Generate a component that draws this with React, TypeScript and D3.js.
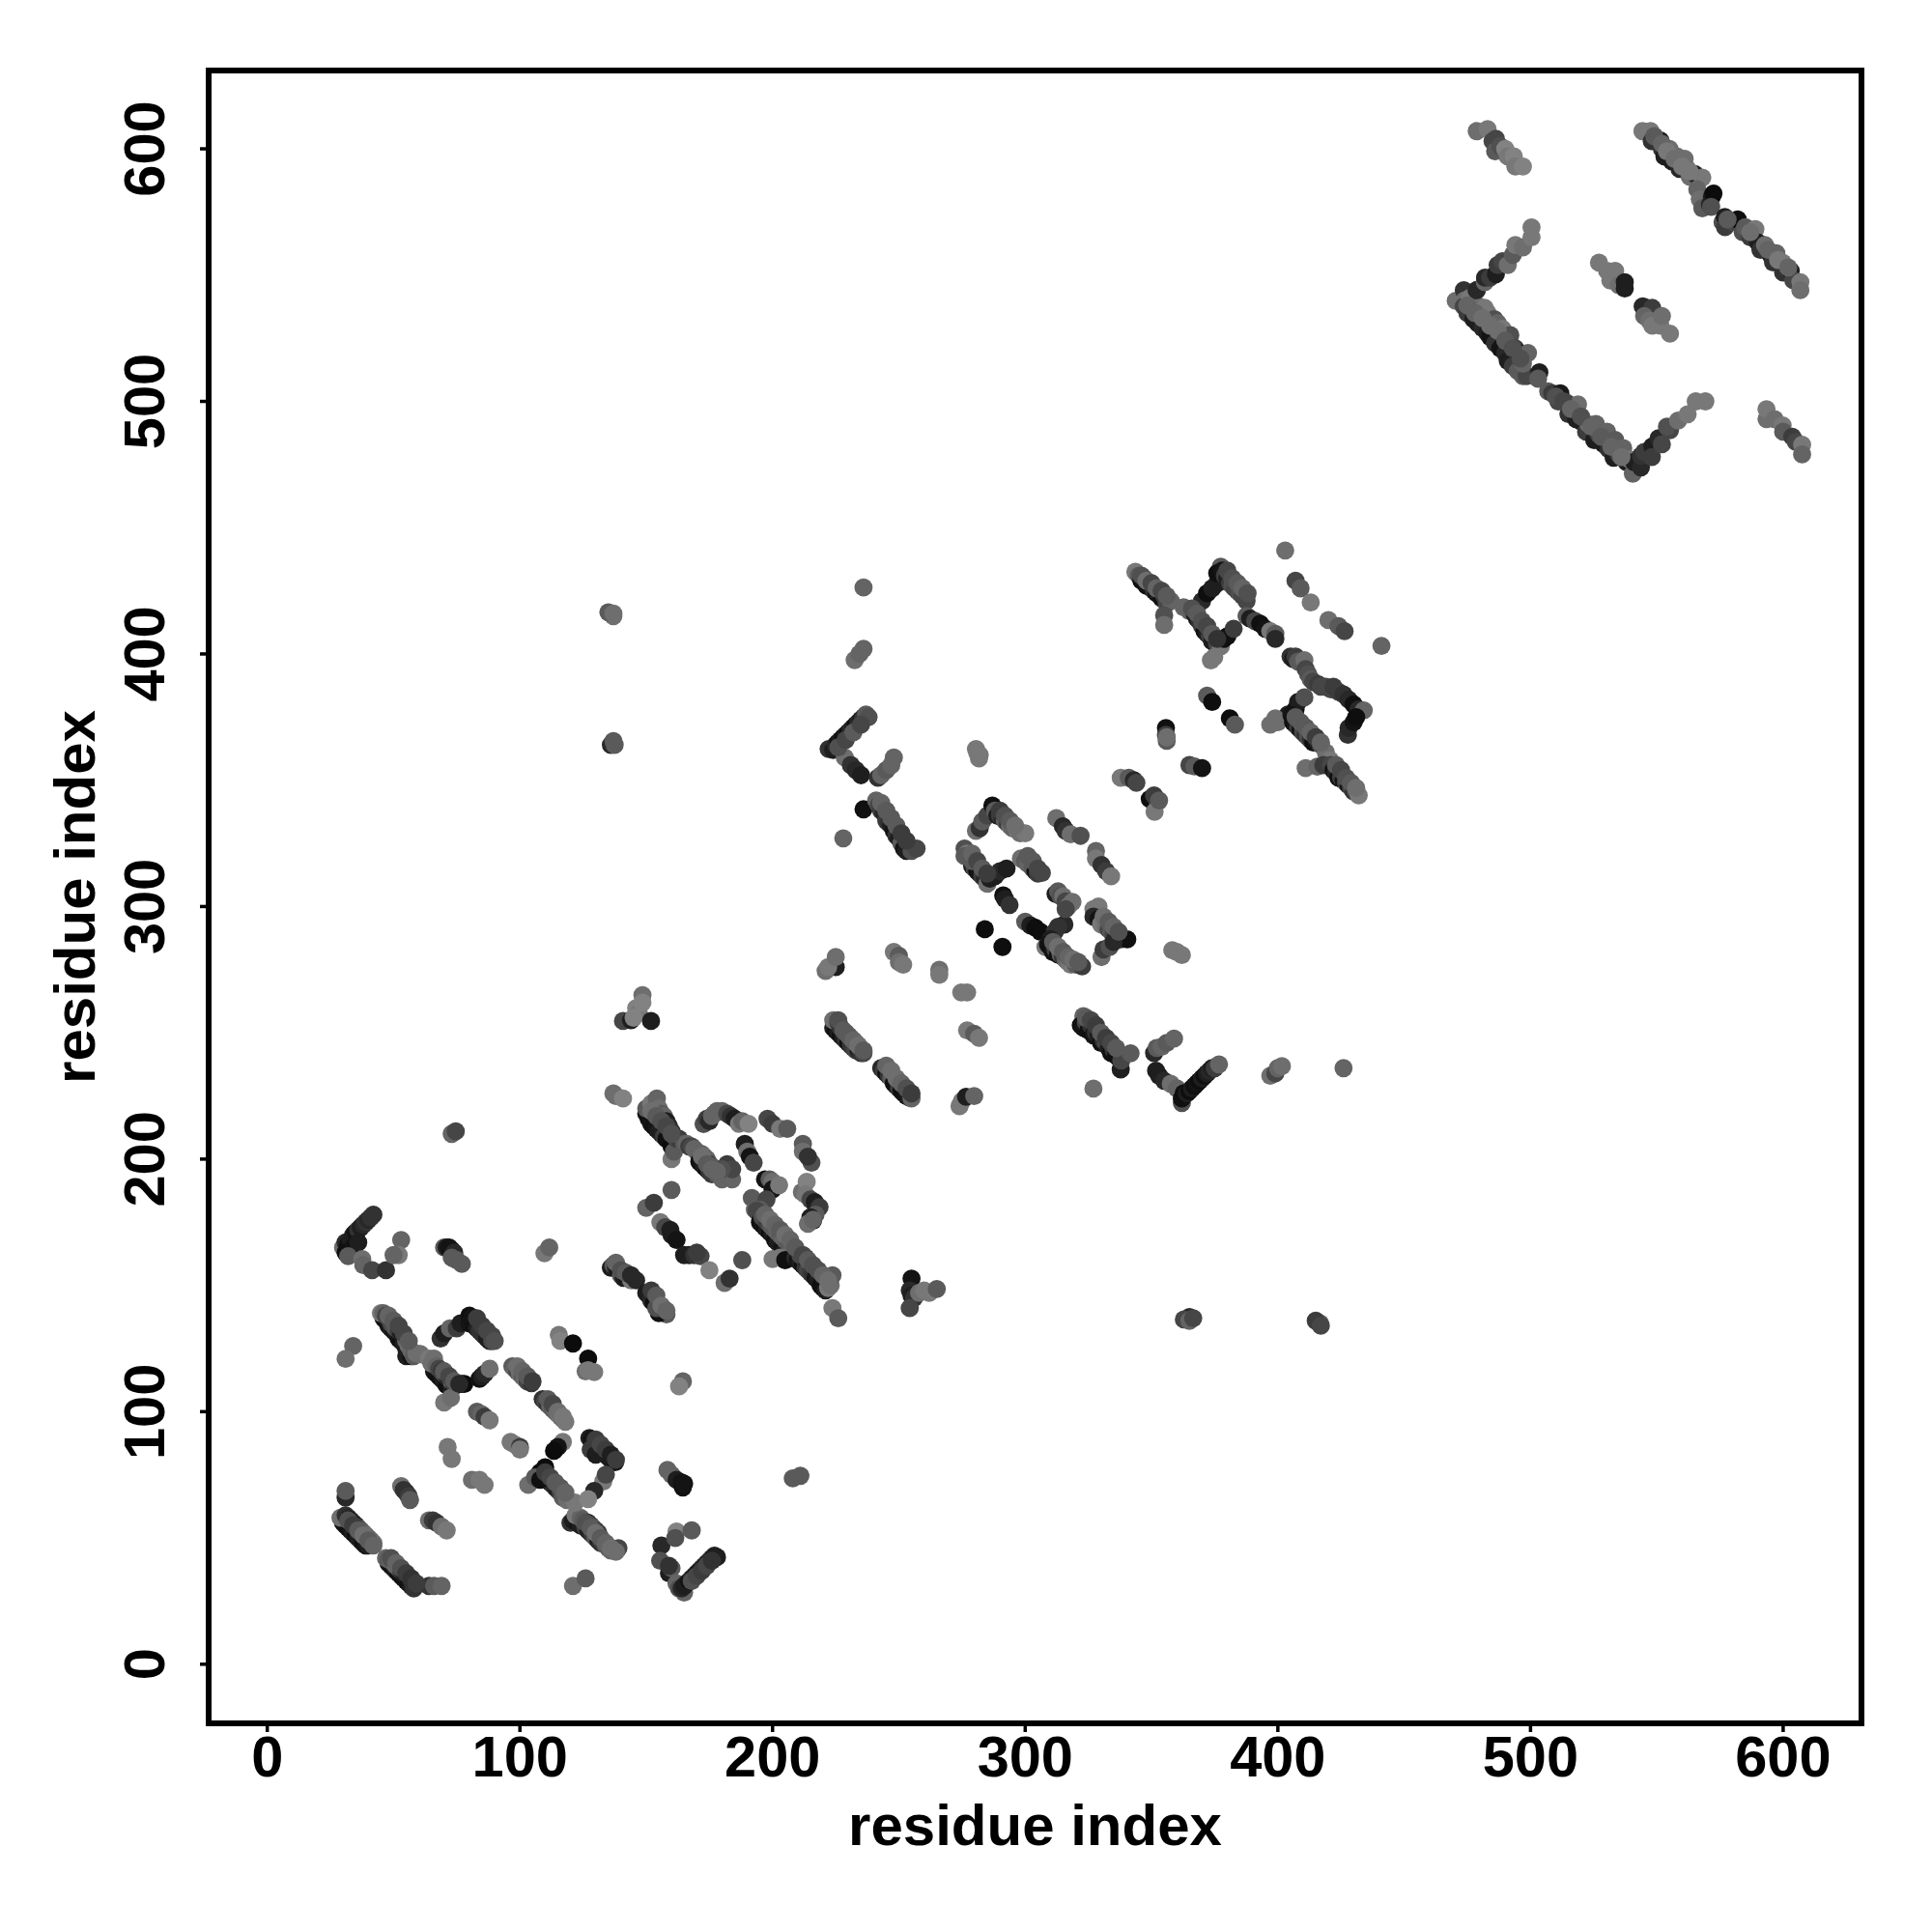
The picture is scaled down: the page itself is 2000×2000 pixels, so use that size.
import React from "react";
import * as d3 from "d3";

type P = [number, number, number];

const xTicks = [0, 100, 200, 300, 400, 500, 600];
const yTicks = [0, 100, 200, 300, 400, 500, 600];
const axisTitle = "residue index";

// [residue x, residue y, grey level of the contact]
const bottomLeft: P[] = [
  [30,56,20],[31,55,20],[32,54,16],[33,53,20],[34,52,30],[35,51,16],[36,50,30],[37,49,30],[38,48,16],[39,47,20],[40,47,30],
  [29,58,110],[31,59,50],[32,58,40],[33,57,20],[34,56,40],[35,55,30],[36,54,70],[37,53,90],[38,52,100],[39,51,110],[40,50,100],[41,49,100],[42,48,110],
  [48,40,20],[49,39,20],[50,38,20],[51,37,30],[52,36,16],[53,35,20],[54,34,16],[55,33,20],[56,32,16],[57,31,30],
  [47,42,100],[48,41.5,90],[49,41,100],[50,40,90],[51,39,110],[52,38,100],[53,37,60],[54,36,40],[55,35,30],[56,34,20],[57,33,40],[58,32,50],[58,30,50],
  [64,31,50],[66,31,90],[69,31,100],
  [31,66,40],[31,68.6,90],
  [53,70.5,110],[54,69,50],[55,68,50],[56,66.5,60],[56.5,65,90],
  [64,57,110],[65.5,57,60],[67,56,50],[69,54.5,110],[71,53,120],
  [121,31,110],[126,34,90],
  [156,47,40],[155.5,41,80],[162,52.6,130],[161.5,50,80],[168,53,90],
  [159,36,30],[160,38,90],[159,39,50],
  [162,32,100],[163,30,80],[165,28.4,100],[164,30,40],[165,31,30],[166,32,30],[167,33,20],[168,34,40],[169,35,30],[170,36,30],[171,37,20],[172,38,30],[173,39,40],[174,40,30],[175,41,40],[176,42,40],[178,42.4,30],[177,43,30],
  [120,56,50],[121,57,30],[123,56,20],[124,55,30],[126,54,70],[127,53,30],[128,52,40],[129,51,60],[130,50,90],[131,49,30],[132,48,50],[133,48,60],[134,47,90],[135,46,90],[136,45,100],[138,45,110],[139,46,70],
  [122,59,120],[124,58,100],[125,57,90],[127,56,30],[128,55,70],[129,54,90],[130,53,70],[131,52,60],
  [30,165,110],[31,167,40],[32,166,16],[33,168,30],[34,170,30],[35,171,20],[36,172,50],[37,173,30],[38,174,40],[39,175,50],[40,176,40],[41,177,50],[42,178,50],[31,163,16],[33,163,16],[34,165,20],[35,166,16],[36,167,30],[32,161.6,90],[37.6,160.4,110],[38,158,100],[41.5,156,70],[47,156,50],[53,168,100],[52,162,120],[50,162,100],
  [70,165,90],[71,165,30],[72,165,20],[73,164,20],[74,163,40],[73,161,90],[75,160,90],[77,158.5,90],
  [109.7,162.7,120],[111.6,165,100],
  [150,180.7,100],[153,182.7,60],[160,187.8,90],
  [155.6,175,120],[157.5,173,70],[159.5,172,30],[160,170,30],[162,168,20],[165,162,30],[167,162,30],[169,162,50],[171.5,161.6,70],[175,156,130],[170,163,60],[181,151,110],[183,152.7,50],[188,160,80],
  [136,157,30],[137,158,90],[138,157,40],[139,156,20],[140,154,90],[141,153,30],[142,154,20],[143,153,30],[144,152,120],[146,152,40],
  [150,147,30],[151,146,30],[152,144,40],[153,143,16],[154,142,20],[155,141,16],[156,140,120],[157,140,90],[158,138.5,90],[155,139,16],[154,141,80]
];

const midLeft: P[] = [
  [46,137,20],[47,136,16],[48,134,20],[49,133,30],[50,132,20],[51,131,30],[52,129,20],[53,128,16],[54,127,30],[55,125,30],[55,122,30],[57,122,16],
  [45,139,120],[46,139,100],[47,138,70],[48,137,70],[49,135,70],[50,134,80],[51,133,90],[52,132,60],[53,131,30],[54,130,30],[55,128,100],[56,126,110],[57,124,100],[58,122,90],[59,123,110],[60.6,122.8,110],[34,126,100],[31,120.9,110],
  [66,116,20],[67,115,20],[68,114,16],[69,113,20],[70,112,30],[71,110.5,16],[72,110,16],[73,109.5,30],[74,110,16],
  [64,121,120],[65,119,110],[66,121,110],[67,118,100],[68,117,70],[69,116,60],[70,115,80],[71,114,50],[72,113,30],[73,112,90],[74,111,50],[75,111,16],[77,111,16],[78,111,12],
  [68.6,129,50],[70,131,30],[72.3,133,100],[75,133,60],[76.5,135,30],
  [80,138,16],[81,137,20],[82,136,30],[80,135,20],[82,134,16],[83,133,30],[84,132,50],[85,131,50],[86,130,50],[87,129,30],[88,128,30],[89,128,70],
  [84,113,16],[85,114,30],[86,115,40],[88,117,110],[70,103.6,120],[72.7,105.5,110],
  [97,118,90],[98,117,100],[99,116,70],[100,115,110],[101,114,90],[102,113,110],[103,112,70],[104.6,111.3,50],
  [109,105,50],[110,104,70],[111,103,50],[112,102,100],[113,101,90],[114,100,100],[115,99,110],[116,98,120],[117,97,110],[118,96,120],
  [115.4,130.4,120],[116,128,130],[121,127,12],[127,121,12],[126,116,110],[127,116.4,120],[129.4,115.7,120],
  [83,100,90],[84.8,99,100],[86,98,60],[88,96.6,120],[71.4,86,120],[73,81.3,120],
  [81,73,110],[84,73,120],[86,71,120],
  [96.3,88,120],[98,87,120],[100,86,60],[100,85,120],[164.5,112,100],[163,110,130],
  [117,88,120],[115,86,20],[113.5,84.5,12],[110,78,12],
  [108,76,12],[109,75,30],[110,74,20],[111,73,40],[112,72,16],[113,71,50],[114,70,40],[115,69,30],[116,68,60],[117,66,90],[118.6,65,110],[121.8,64,120],[103.3,71,110],[106,74,90],[108,73,16],
  [127.5,89.6,30],[128.5,89,20],[129,87,30],[130,87,60],[131,86,30],[132,85,60],[133,84,70],[134,83,50],[135,82,16],[136,81,30],[137.7,80,20],[128,85,60],[130,83,30],
  [133,72.4,120],[134,75,70],[129.4,68.6,40],[127,65.4,130],
  [158.4,76.9,100],[160,75,100],[162,73,30],[164,72,20],[164.5,70,16],[165,71.5,20],
  [73,210,100],[74.6,211,70],[208,73.6,90],[211,74.6,90]
];

const midCentre: P[] = [
  [140.8,254.7,70],[144,255,30],[146,259.8,130],[147,258,120],[148.5,264.9,110],[148.5,262,130],[145,256,130],[151.9,254.7,30],
  [137,226,110],[138,225,110],[140.8,224,130],
  [150,218,20],[151,216,16],[152,214,20],[153,213,16],[154,212,20],[155,211,30],[156,210,30],[157,209,60],[158,208,16],[160,205,12],[160,200,120],[161,203,90],
  [150,220,90],[152,222,120],[154.2,224,100],[155,220,110],[156,218,90],[157,217,100],[158,215,30],[159,213,40],[160,211,50],[161,209,30],[162,208,70],[163,208,60],[165,206,90],[166,206,100],[167,205,60],[168,205,70],[169,204,100],[170,203,100],
  [171,199,16],[172,198,20],[173,197,30],[174,196,16],[175,195,50],[176,194,60],[177,196,90],[172,202,100],[173,201,110],[174,200,100],[175,198,60],[176,197,90],[178,194,90],[180,192,100],[182,198,60],[184,192,100],[184,196,70],[180,196,80],
  [172.7,213.9,80],[174,216,60],[175,215,40],[176,217,100],[177,218,100],[178,219,100],[180,219,100],[182,218,70],[183.5,217,50],[185,216,30],[186.7,214,120],[188,215,100],[190.5,214,130],
  [198,216,70],[200,214,60],[203,212,120],[205.8,212,90],
  [212,206,90],[212,203,110],[215.4,198.6,80],[214,201,50],
  [189,206,30],[190,203,110],[191,201,20],[192.5,198.6,70],
  [197,192,20],[198.8,192,90],[200,191,110],[200,188,20],[202.6,189.7,120],
  [211.6,187,110],[213.5,191,130],[213,186,120],[215,184,70],[216.7,183,30],[217,182,30],[218.6,181,60],[217,178,90],[215,177,30],[216,175.6,20],[214,174.4,110],[216,176,100],
  [191.8,184.6,90],[193,180,100],[194,182,90],[197.6,184,70],[195,180,90],[197,178,90],[193.7,179.5,70],
  [195,175,16],[196,174,20],[197,173,16],[198,172,30],[199,171,16],[200,170,30],[201,168,16],[202,167,30],[203,166,30],[204,165,20],[205,164,30],[196,177,80],[197,176,70],[198,175,60],[199,174,80],[200,173,90],[201,172,90],[202,171,100],[203,170,90],[204,169,100],[205,168,100],[206,167,90],[207,166,90],[208,164,100],
  [200,160.4,120],[203,161,120],[205,160,16],
  [209,161,40],[210,160,20],[211,159,30],[212,158,16],[213,157,50],[214,156,70],[215,155,60],[216,154,50],[217,153,20],[218,152,30],[219,150,16],[220,149,16],[221,148,30],[222,149,120],[223,150,110],[223.7,154,90],[211,162,70],[213,161,12],
  [223.7,141,120],[226,137,90],
  [255,152.7,20],[254.3,148,40],[255,146,30],[256,145,50],[254.3,141,70],[258,147,110],[260,148,120],[262,147,120],[265,148.6,90],
  [225,276,30],[221,274.5,110],[222,276,120],[225,280,110],
  [248,282,120],[250,280.5,90],[250,278,110],[251.7,277,120],
  [266,275,110],[266,273,120],[274.7,266,120],[277,266,120],
  [277,251,120],[279.8,249.6,90],[281.7,248,120],
  [274,221,120],[275,223,120],[276.6,224.7,30],[279.8,225,100],
  [224,252,30],[225,251,16],[226,250,30],[227,249,16],[228,248,30],[229,247,50],[230,246,16],[231,245,50],[232,244,60],[233,243,70],[234,243,30],[235,242,50],[236,242,70],[224,255,110],[226,254,60],[227,252,50],[229,250,90],[231,248,110],[233,246,110],
  [243,236,40],[244,235,60],[245,234,16],[246,233,50],[247,232,90],[248,230,16],[249,229,16],[250,228,60],[251,227,16],[252,226,16],[253,225,20],[254,224.5,30],[255,224,100]
];

const midRight: P[] = [
  [137,415,110],[135,416.5,90],[137,416,110],
  [136,364,40],[137,365.5,90],[137.5,364,90],
  [236,426.3,100],[232.5,397.6,110],[234.4,400,100],[236,402,100],
  [222.2,362.4,50],[224,362,30],[225,364,40],[226,365,20],[227,366,30],[228,367,16],[229,368,30],[230,369,16],[231,370,40],[232,371,30],[233,372,16],[234,373,40],[235,374,30],[236,375,50],[237,376,90],[238,375,80],
  [228.6,359,110],[231,356,50],[233,354,40],[235,352,30],[241.7,351,50],[243,352,100],[245,354,90],[247,356,100],[248,359,100],
  [236,338.5,16],[241,342,100],[242,340,70],[243,338,60],[244,337,40],[245,334,60],[246,333,50],[247,332,30],[248,330,20],[249,328,50],[250,327,30],[251,325,90],[252,323,20],[253,322,30],[255,322,80],[257,323,70],[228,327,100],
  [280.5,362.4,120],[281,361,120],[281.7,358.6,120],[282,360,120],
  [280.5,330,110],[282,331,50],[283,333.7,90],[285,336,70],[287,340,16],[288,338,90],[289,336,30],[290,336,60],[291,335,40],[292,334,100],[293,333,60],[294,332,110],[295,331,100],[297,330,120],[298,329,110],[300,329,120],
  [276,323,80],[277,321,120],[278,319,100],[279,316,30],[280,315,70],[281,314,16],[282,313,20],[283,312,60],[284,311,40],[285,309,110],[286,311,30],[288,312,30],[290,314,40],[292.6,315,30],[276,320,90],[279,318,90],
  [298.3,319,110],[300,318,90],[301,317,100],[303,315,90],[304,314,20],[305,313,60],[306.6,313.3,70],
  [291.3,304.4,16],[292,303,30],[293.8,300.6,50],
  [284,291,14],[291,284,14],
  [300,294,90],[302,292.6,30],[304,291.6,14],[306,290,14],
  [315.5,292.9,40],[313,292,50],[311.7,290,50],[310,287,30],
  [308,284,120],[309,285,20],[310,284,16],[311,282,20],[312,283,70],[313,281,16],[314,281,90],[315,280,50],[316,279,100],[317,278,110],[318,277,120],[320,277,90],[322.5,276.3,60],
  [312.3,335,110],[314.9,331.8,40],[316,330,50],[318,328.6,110],[321.9,328,80],
  [328,322,100],[328,319,120],[330.2,316.5,50],[332,314,60],[334,312,120],
  [312,305,30],[313,306,90],[314,304,80],[315,304,110],[316,302,70],[317,300,120],[318.7,301.8,110],[316,299,70],
  [327,299,120],[329,300,120],[327,296,40],[329,295,20],[330,293,120],[332,292,110],[333,291,70],[334,290,90],[335,289,70],[336,288,30],[337,288,60],[338,287,60],[340.4,287,16],
  [330.2,280,110],[331,283,60],[333.4,284,80],[335,286,40],
  [358.2,282.7,120],[360,282,120],[362,280.8,120],
  [323,256.6,100],[322,253,16],[323,252,20],[324,254,70],[325,251,16],[326,253,50],[327,249,20],[328,250,50],[329,249,30],[330,246,16],[331,247,50],[332,246,70],[333,244,30],[334,242,16],[335,243,50],[336,241,16],[337.8,235.5,30],[337,240,16],[338,239,70],[341.7,241.9,90],
  [327,227.9,110],
  [351,242,40],[352,244,90],[354,244.5,100],[356,246,90],[358.9,247.7,100],
  [351.8,235,30],[353,233,30],[355,231,40],[357.6,229.8,110],[360,228,100],[362,222.2,80],
  [362,224,16],[362.7,226,14],[364,226,30],[365,227,14],[366,228,30],[367,229,16],[368,230,20],[369,231,14],[370,232,30],[371,233,16],[372,234,30],[373,235,40],[374,236,30],[375,236,60],[376.7,237.5,100],
  [397,233,110],[399,234,70],[400,236,100],[401.6,236.8,110],
  [426,236,100]
];

const upperMid: P[] = [
  [343.6,432.5,120],[345,431,90],[346,429,16],[347,430,30],[348,427,16],[349,428,60],[350,426,20],[351,425,50],[352,424,16],[353,424,40],[354,422,16],[355,423,60],[356,420,70],[357.6,421,100],[355,415.3,80],[355,411.5,110],
  [362.7,418.5,100],[365,417,100],[367,416,30],[368,414,20],[369,413,50],[370,411,60],[371,409,16],[372,408,30],[373,407,60],[374,405,30],[375,405,30],[376,404,70],[377.4,403,120],[374.8,398.7,120],[373.5,397.5,120],
  [370,421,40],[372,424,14],[374,426,30],[376,428,30],[377.4,434.5,90],[376,432,16],[378,433,20],[379,431,60],[380,430,30],[381,428,60],[382,427,80],[383,426,70],[384,425,70],[385,424,80],[386,423,70],[387.6,421,70],
  [378.6,406,16],[380,407,16],[382.5,410,60],
  [387.6,415,90],[389,414,30],[391,413,70],[393,412,16],[395,410,20],[397,409,120],[399,408,90],[399,406,40],
  [372,383.5,90],[374,381,14],[381,374.5,14],[383,372,90],
  [355.7,370.7,16],[355.7,368,60],[356,365.6,90],[356,367,110],
  [337.8,351,120],[341,351,90],[343,350,40],[344,349,70],[349.3,342.6,14],[352.5,341.4,100],[351.2,337.5,120],[351,344,60],[353,342,90],
  [365,356,70],[367,355.5,90],[370,354.8,20],
  [402.9,441,110],[407,429,70],[409,426,90],[413,420.4,120],[420,413.4,110],[424,411,90],[426.4,409,70],[441,403.2,100],
  [405,399,50],[406,398,30],[407,399,60],[408,397,90],[410.5,397.5,110],[411,394,70],[412,392,80],[413,390,90],[414,389,70],[416,388,60],[417,387,70],[419,387,70],[421,386,70],[422,387,60],[424,385,60],[426,384,50],[428,382,40],[430,380,16],[432,378,40],[434,377.7,100],
  [427.7,368,50],[428,370.7,40],[430,373,20],[431,375,14],
  [404,376,30],[407,378,16],[408,381,30],[410.5,382.8,80],
  [397,372,110],[399,374.5,110],[400,373,110],
  [405.4,375.8,20],[406,373,16],[407,372,20],[408,371,60],[409,370,16],[410,369,70],[411,368,50],[412,367,80],[413,366,50],[414,365,14],[415,365,20],[416,365,30],[417,364,80],[419,361,110],[420.7,358,120],
  [411,354.8,110],[415.6,355.4,100],[418,356,60],
  [421,356,70],[422,354,20],[423,353,40],[424,351,14],[425,351,60],[426,350,20],[427,349,70],[428,348,20],[429,347,70],[430,345.5,50],[431,346,100],[432,344,120]
];

const topRight: P[] = [
  [478.7,607,110],[483,607.8,120],[485,603,70],[486.3,604,70],[486,599,90],[488,601,80],[490,600,130],[491,597,120],[493.4,597,130],[494,593,120],[497,593,130],
  [544.3,607,120],[547.5,607,120],[548,603,50],[551.4,603.3,30],[552,600,50],[553,597,30],[555,600,110],[556,595,30],[558,597,110],[559,592,40],[561,596,110],[562,592,110],[563,589,110],[565,590,30],[568,588.6,120],[566,584,100],[567,580,110],[568,576.5,90],[571,578,40],[571.8,581,30],[572.4,582.3,12],[571.5,577,80],
  [576,571,80],[576.9,573,30],[577,569,60],[580,571,70],[582,572,14],[584,567,80],[585,569,90],[587,565,60],[589,568.2,120],[590,563,30],[591,560,50],[592.8,561.9,110],[595,558,30],[596,555,50],[597.3,558.7,100],[599.8,554.9,120],[600,551,50],[603,551.7,30],[604,548,70],[606.8,547.2,120],[606.8,544,110],
  [470.4,539.8,110],[473.6,544,50],[474,540,110],[473.6,537.6,70],[475,535,60],[477.4,532.6,30],[479,531,30],[481,529,40],[483,527,30],[484,525.5,20],[486,523,50],[488,521,20],[490,519,40],[491,516,30],[493,514,60],[495,512,90],[497,510,90],[498.5,510,70],
  [476,541,120],[478.7,544,60],[479,538,110],[481.9,537,120],[483,535,120],[485.7,532.6,80],[487,531,100],[488.9,528.7,120],[490.5,526.5,120],[492,526.2,80],[494,521,60],[495.3,519.2,20],[499,519.2,100],[497,515,100],[503.5,511.5,30],[503,509,90],
  [478.7,544,40],[481.9,547.2,100],[482,549,40],[484,549,60],[486.3,550.4,30],[487,554,60],[488.9,555.5,70],[491,554,110],[493,558,90],[494,561.9,120],[497,561,110],[500.4,565,120],[500.4,568.9,120],
  [507,504,90],[508.6,503.2,60],[511.8,503.2,25],[511,500,70],[514.4,499.4,70],[515,495,50],[518.8,498.8,110],[518,493,30],[520,492,30],[522,488,60],[523,491,110],[525.2,484.7,30],[525.9,491.1,100],[527,487,70],[530.3,488,100],[529,483,30],[531,481,50],[532.9,477.7,30],[533.5,484.7,90],[535,479,70],[536.7,481.5,100],[538,476,30],[539.3,477,120],[540.5,471.4,100],
  [541,476,30],[543.7,473.9,40],[543.7,478.4,50],[545,480,60],[548.2,482.2,30],[548,478,60],[550.7,485.4,40],[552,483,70],[555.2,488.6,70],[554,490,80],[558.4,492.4,110],[562.2,494.9,120],[565.4,500,120],[569.2,500,120],
  [527.1,554.9,120],[530.3,551.7,120],[531.6,547.9,120],[533.5,551.7,120],[535,546,110],[537.3,547.2,30],[537.3,544.7,30],
  [544.4,537.6,40],[546,537,40],[548.2,537,60],[545,533.8,100],[547,532,110],[548.2,530,120],[551.4,530,120],[552,533.8,110],[555.2,526.8,120],
  [593.4,493,110],[593.4,496.9,120],[596.6,493,110],[599.8,490.5,120],[600,488,90],[603.6,486,60],[605,484,70],[607.5,482.8,120],[607.5,479,100],
  [365,137.5,40],[362.8,136.5,70],[365,136,100],[366.5,137,70],[416.7,135,100],[415,136,60],[417,134,70]
];

const paleStrandContacts: P[] = [
  [32,57,80],[34,55,60],[36,53,90],[38,51,110],[40,49,90],[42,47,100],
  [49,42,80],[51,40,100],[53,38,80],[55,36,60],[57,34,50],[59,32,60],
  [126,56,80],[128,54,90],[130,52,110],[132,50,90],[134,48,100],[136,46,110],[138,44.5,110],
  [168,33,80],[170,35,70],[172,37,60],[174,39,70],[176,41,50],
  [48,138,100],[50,136,90],[52,134,70],[54,131,70],[56,128,90],
  [70,116,90],[72,114,70],[74,112,90],[76,111,40],
  [83,137,60],[85,134,60],[87,132,70],[89,130,70],[90,128,80],
  [99,118,110],[101,116,100],[103,114,90],[105,112,60],
  [111,105,90],[113,103,70],[115,100,110],[117,98,120],
  [110,76,60],[112,74,70],[114,72,90],[116,70,90],[118,68,100],
  [130,89,60],[132,87,70],[134,85,60],[136,83,30],[138,81,60],
  [138,159,100],[140,156,80],[142,155,90],[144,154,40],[152,148,60],[154,146,90],[156,142,110],[158,140,100],
  [152,219,110],[154,217,90],[156,215,80],[158,213,70],[160,210,80],[172,201,110],[174,198,90],[176,196,100],[178,195,100],
  [197,178,100],[199,176,110],[201,174,100],[203,172,90],[205,170,110],[207,168,100],[209,165,90],[212,162,70],[214,160,90],[216,158,80],[218,156,80],[220,154,100],[222,152,110],
  [226,255,80],[228,251,90],[230,249,90],[232,247,100],[234,245,110],[236,243,90],
  [245,237,100],[247,235,110],[249,232,110],[251,230,100],[253,228,80],[255,226,60],
  [226,363,80],[229,366,70],[232,369,90],[235,372,70],
  [243,341,100],[245,338,90],[247,335,90],[249,332,90],[251,329,60],[253,326,60],
  [290,338,60],[292,336,80],[294,334,90],[296,332,110],
  [279,321,100],[281,318,70],[283,315,90],[285,313,60],
  [301,320,90],[303,318,90],[305,315,70],
  [311,286,90],[313,284,110],[315,282,90],[317,280,100],[319,279,110],[321,278,90],
  [331,296,110],[333,294,90],[335,292,100],[337,290,80],
  [324,256,90],[326,255,70],[328,253,60],[330,250,90],[332,248,60],[334,246,70],[336,244,90],
  [346,431,80],[348,429,110],[350,428,70],[352,426,100],[354,425,70],[356,423,90],
  [366,418,80],[368,416,90],[370,413,80],[372,411,70],[374,408,90],[376,406,50],
  [380,433,70],[382,430,80],[384,428,90],[386,426,100],[388,424,80],
  [407,375,90],[409,373,90],[411,371,90],[413,369,100],[415,367,60],[417,365,100],
  [423,356,90],[425,354,70],[427,351,80],[429,349,90],[431,347,110],
  [549,605,90],[552,602,100],[554,599,120],[557,596,110],[560,593,120],[563,591,120],
  [578,572,90],[587,567,110],[594,560,100],[598,556,120],[602,553,100],
  [475,538,100],[478,535,100],[481,533,110],[484,530,110],[487,528,110],[490,524,90],[493,521,80],[496,517,80],
  [510,502,80],[513,500,70],[516,497,100],[520,494,80],[524,490,100],[528,486,90],[532,482,100],[536,478,110]
];

const allContacts: P[] = [...bottomLeft, ...midLeft, ...midCentre, ...midRight, ...upperMid, ...topRight, ...paleStrandContacts];

const frame = { left: 216, right: 1927, top: 73, bottom: 1784 };
const x = d3.scaleLinear().domain([-23.2, 631]).range([frame.left, frame.right]);
const y = d3.scaleLinear().domain([-23.4, 631]).range([frame.bottom, frame.top]);
const font = "'Liberation Sans', Arial, sans-serif";

export default function App() {
  return (
    <svg width={2000} height={2000} viewBox="0 0 2000 2000"
      style={{ position: "absolute", left: 0, top: 0, background: "#fff" }} fontFamily={font} fontWeight="bold" fill="#000">
      {allContacts.map(([a, b, g], i) => (
        <circle key={i} cx={x(a)} cy={y(b)} r={9.4} fill={d3.rgb(g, g, g).formatHex()} />
      ))}
      <rect x={frame.left} y={frame.top} width={frame.right - frame.left} height={frame.bottom - frame.top}
        fill="none" stroke="#000" strokeWidth={6} />
      {xTicks.map(t => (
        <g key={t}>
          <line x1={x(t)} x2={x(t)} y1={frame.bottom} y2={frame.bottom + 9} stroke="#000" strokeWidth={3.5} />
          <text x={x(t)} y={1839} fontSize={59.5} textAnchor="middle">{t}</text>
        </g>
      ))}
      {yTicks.map(t => (
        <g key={t}>
          <line y1={y(t)} y2={y(t)} x1={frame.left} x2={frame.left - 9} stroke="#000" strokeWidth={3.5} />
          <text transform={`translate(170,${y(t)}) rotate(-90)`} fontSize={59.5} textAnchor="middle">{t}</text>
        </g>
      ))}
      <text x={(frame.left + frame.right) / 2} y={1910} fontSize={60} textAnchor="middle">{axisTitle}</text>
      <text transform={`translate(98,${(frame.top + frame.bottom) / 2}) rotate(-90)`} fontSize={60} textAnchor="middle">{axisTitle}</text>
    </svg>
  );
}
